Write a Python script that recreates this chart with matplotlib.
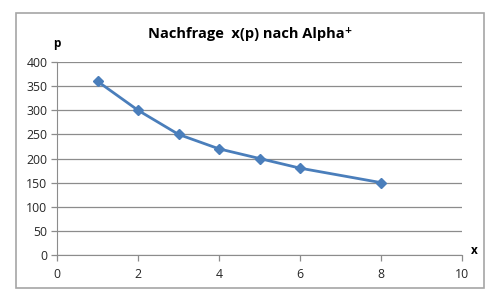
import matplotlib
matplotlib.use("Agg")
import matplotlib.pyplot as plt
from matplotlib.patches import Rectangle

x_vals = [1, 2, 3, 4, 5, 6, 8]
p_vals = [360, 300, 250, 220, 200, 180, 150]
x_ticks = [0, 2, 4, 6, 8, 10]
y_ticks = [0, 50, 100, 150, 200, 250, 300, 350, 400]
title = "Nachfrage  x(p) nach Alpha\u207a"

plt.rcParams['font.family'] = ['Open Sans', 'DejaVu Sans']

fig = plt.figure(figsize=(4.95, 3.01), dpi=100)
fig.patches.append(Rectangle((16/495, 1-288/301), (484-16)/495, (288-13)/301,
                             transform=fig.transFigure, fill=False,
                             edgecolor='#a6a6a6', linewidth=1.2))
ax = fig.add_axes([57/495, 1-255/301, (462-57)/495, (255-62)/301])
ax.plot(x_vals, p_vals, color='#4a7ebb', linewidth=2, marker='D',
        markersize=5.5, markerfacecolor='#4a7ebb', markeredgecolor='#4a7ebb')
ax.set_xlim(0, 10)
ax.set_ylim(0, 400)
ax.set_xticks(x_ticks)
ax.set_yticks(y_ticks)
ax.yaxis.grid(True, color='#8c8c8c', linewidth=0.9)
ax.set_axisbelow(True)
for s in ['top', 'right']:
    ax.spines[s].set_visible(False)
ax.spines['left'].set_color('#8c8c8c')
ax.spines['bottom'].set_color('#8c8c8c')
ax.tick_params(axis='both', colors='#8c8c8c', labelcolor='#262626',
               labelsize=8.8, length=4, width=0.9)
ax.tick_params(axis='x', pad=5)
ax.tick_params(axis='y', pad=3)
fig.text(250/495, 1-34/301, title, ha='center', va='center',
         fontsize=10.5, fontweight='bold', color='#000000')
fig.text(57/495, 1-44/301, 'p', ha='center', va='center',
         fontsize=8.5, fontweight='bold')
fig.text(474/495, 1-251/301, 'x', ha='center', va='center',
         fontsize=8.5, fontweight='bold')
fig.savefig('out.png', dpi=100)
